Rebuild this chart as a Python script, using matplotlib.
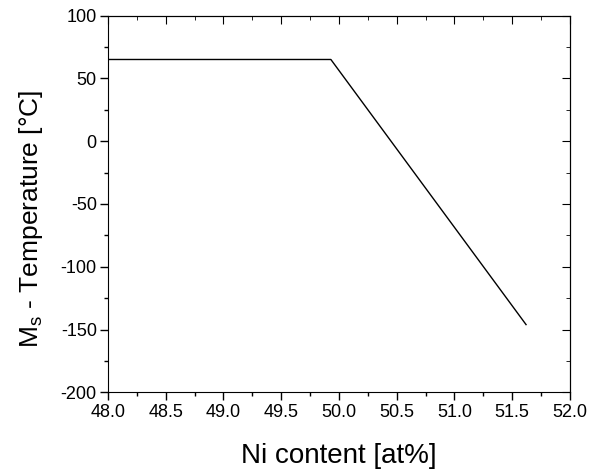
import matplotlib
matplotlib.use("Agg")
import matplotlib.pyplot as plt
from matplotlib.ticker import MultipleLocator

# Ms-Temperatur gegen Ni-Gehalt
ni_content = [48.0, 49.93, 51.62]
ms_temp = [65, 65, -146]

plt.rcParams['font.family'] = ['Liberation Sans', 'DejaVu Sans']
plt.rcParams['axes.unicode_minus'] = False

fig = plt.figure(figsize=(5.9, 4.7), dpi=100)
ax = fig.add_axes([0.183, 0.165, 0.783, 0.802])

ax.plot(ni_content, ms_temp, color='black', linewidth=1.0)

ax.set_xlim(48, 52)
ax.set_ylim(-200, 100)
ax.xaxis.set_major_locator(MultipleLocator(0.5))
ax.xaxis.set_minor_locator(MultipleLocator(0.25))
ax.yaxis.set_major_locator(MultipleLocator(50))
ax.yaxis.set_minor_locator(MultipleLocator(25))
ax.xaxis.set_major_formatter(matplotlib.ticker.FormatStrFormatter('%.1f'))

# Ticks aussen unten/links, innen oben/rechts
ax.tick_params(which='both', direction='out', top=False, right=False, labelsize=13, pad=2)
ax.tick_params(which='major', length=6, width=1)
ax.tick_params(which='minor', length=3, width=1)
sec = ax.secondary_xaxis('top')
sec.xaxis.set_major_locator(MultipleLocator(0.5))
sec.xaxis.set_minor_locator(MultipleLocator(0.25))
sec.tick_params(which='both', direction='in', labeltop=False)
sec.tick_params(which='major', length=6)
sec.tick_params(which='minor', length=3)
sec2 = ax.secondary_yaxis('right')
sec2.yaxis.set_major_locator(MultipleLocator(50))
sec2.yaxis.set_minor_locator(MultipleLocator(25))
sec2.tick_params(which='both', direction='in', labelright=False)
sec2.tick_params(which='major', length=6)
sec2.tick_params(which='minor', length=3)

ax.set_xlabel('Ni content [at%]', fontsize=20, labelpad=16)
ax.set_ylabel('M$_\\mathregular{s}$ - Temperature [°C]', fontsize=19, labelpad=11, y=0.46)

fig.savefig('out.png', dpi=100)
